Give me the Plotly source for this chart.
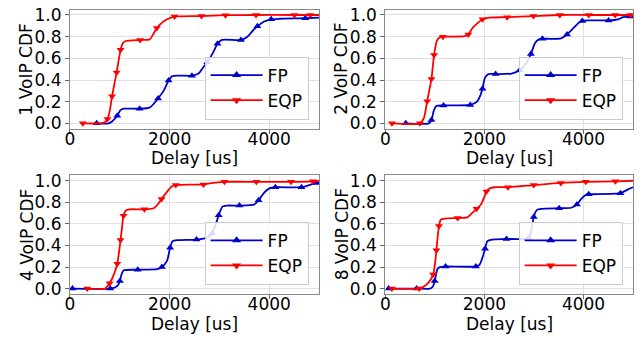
import plotly.graph_objects as go

# ---------------------------------------------------------------------------
# CDF curves of VoIP delay for FP and EQP, four scenarios (1, 2, 4, 8 VoIP flows)
# Each curve: delay knots (us), CDF values, and indices of knots that carry a marker.
# ---------------------------------------------------------------------------

# 1 VoIP
eqp1_x = [257, 600, 700, 752, 800, 844, 890, 937, 980, 1016, 1060, 1120, 1406, 1600,
          1680, 1743, 1850, 1950, 2099, 2640, 3121, 3735, 4507, 4824, 5000]
eqp1_y = [0, 0, 0.01, 0.04, 0.12, 0.25, 0.36, 0.47, 0.59, 0.68, 0.74, 0.76, 0.77, 0.775,
          0.83, 0.88, 0.93, 0.96, 0.985, 0.99, 0.998, 1.0, 1.0, 1.0, 1.0]
eqp1_mk = [0, 3, 5, 7, 9, 12, 15, 18, 19, 20, 21, 22, 23]

fp1_x = [535, 780, 850, 950, 1010, 1080, 1398, 1600, 1680, 1768, 1880, 1980, 2050, 2200,
         2448, 2580, 2680, 2758, 2880, 2962, 3050, 3432, 3560, 3680, 3762, 3900, 4040,
         4200, 4725, 5000]
fp1_y = [0, 0, 0.02, 0.07, 0.12, 0.135, 0.135, 0.145, 0.18, 0.23, 0.30, 0.395, 0.435, 0.44,
         0.44, 0.46, 0.52, 0.565, 0.66, 0.735, 0.77, 0.77, 0.80, 0.86, 0.895, 0.94, 0.96,
         0.965, 0.97, 0.975]
fp1_mk = [0, 3, 6, 9, 11, 14, 17, 19, 21, 24, 26, 28]

# 2 VoIP
eqp2_x = [134, 698, 780, 845, 931, 984, 1040, 1100, 1164, 1600, 1674, 1760, 1850, 1961,
          2100, 2459, 2990, 3522, 4106, 4638, 4951, 5000]
eqp2_y = [0, 0, 0.05, 0.205, 0.41, 0.63, 0.76, 0.795, 0.80, 0.805, 0.82, 0.88, 0.92, 0.96,
          0.975, 0.98, 0.99, 1.0, 1.0, 1.0, 1.0, 1.0]
eqp2_mk = [0, 1, 3, 4, 5, 8, 10, 13, 15, 16, 17, 18, 19, 20]

fp2_x = [413, 880, 931, 980, 1030, 1176, 1714, 1850, 1920, 1961, 2010, 2080, 2226, 2550,
         2711, 2850, 2938, 3020, 3100, 3170, 3550, 3668, 3800, 3920, 3975, 4100, 4506,
         4700, 4800, 4951, 5000]
fp2_y = [0, 0, 0.03, 0.12, 0.16, 0.165, 0.17, 0.20, 0.26, 0.32, 0.42, 0.455, 0.455, 0.46,
         0.49, 0.56, 0.64, 0.74, 0.775, 0.78, 0.785, 0.82, 0.88, 0.935, 0.945, 0.95, 0.95,
         0.96, 0.98, 0.985, 0.985]
fp2_mk = [0, 2, 5, 6, 9, 12, 14, 16, 19, 21, 24, 26, 29]

# 4 VoIP
eqp4_x = [346, 700, 796, 880, 949, 985, 1015, 1045, 1075, 1120, 1200, 1493, 1680, 1760,
          1837, 1950, 2050, 2124, 2400, 2680, 2800, 3100, 3742, 4438, 4876, 5000]
eqp4_y = [0, 0, 0.05, 0.13, 0.23, 0.34, 0.45, 0.57, 0.675, 0.725, 0.735, 0.735, 0.745, 0.78,
          0.83, 0.90, 0.95, 0.96, 0.965, 0.965, 0.975, 0.99, 0.99, 0.99, 0.995, 1.0]
eqp4_mk = [0, 2, 4, 6, 8, 11, 14, 17, 19, 21, 22, 23, 24]

fp4_x = [50, 808, 900, 960, 1001, 1040, 1080, 1360, 1750, 1845, 1950, 2010, 2060, 2150,
         2540, 2750, 2851, 2930, 2985, 3060, 3150, 3403, 3700, 3786, 3900, 4000, 4124,
         4647, 4800, 4945, 5000]
fp4_y = [0, 0, 0.01, 0.03, 0.07, 0.14, 0.17, 0.175, 0.18, 0.20, 0.26, 0.38, 0.44, 0.45,
         0.455, 0.47, 0.51, 0.60, 0.68, 0.76, 0.77, 0.77, 0.78, 0.82, 0.89, 0.93, 0.94,
         0.94, 0.96, 0.98, 0.985]
fp4_mk = [0, 1, 4, 7, 9, 11, 14, 16, 18, 21, 23, 26, 27, 29]

# 8 VoIP
eqp8_x = [133, 686, 780, 880, 965, 1000, 1031, 1055, 1083, 1120, 1200, 1462, 1650, 1750,
          1841, 1930, 1990, 2040, 2110, 2200, 2477, 2996, 3542, 4046, 4644, 5000]
eqp8_y = [0, 0, 0.02, 0.06, 0.13, 0.22, 0.355, 0.47, 0.58, 0.64, 0.65, 0.655, 0.66, 0.70,
          0.74, 0.78, 0.84, 0.90, 0.93, 0.94, 0.94, 0.96, 0.98, 0.99, 0.995, 1.0]
eqp8_mk = [0, 1, 4, 6, 8, 11, 14, 17, 20, 21, 22, 23, 24]

fp8_x = [66, 632, 900, 960, 997, 1050, 1100, 1216, 1828, 1900, 1970, 2013, 2060, 2150,
         2446, 2896, 2950, 2996, 3060, 3150, 3508, 3750, 3867, 3950, 4050, 4106, 4744,
         4900, 5000]
fp8_y = [0, 0, 0, 0.02, 0.07, 0.18, 0.20, 0.205, 0.205, 0.22, 0.30, 0.37, 0.44, 0.455,
         0.46, 0.47, 0.55, 0.665, 0.73, 0.74, 0.745, 0.75, 0.78, 0.83, 0.87, 0.875, 0.885,
         0.92, 0.94]
fp8_mk = [0, 1, 4, 7, 8, 11, 14, 15, 17, 20, 22, 25, 26]

panel_titles = ["1 VoIP CDF", "2 VoIP CDF", "4 VoIP CDF", "8 VoIP CDF"]
series_names = ["FP", "EQP"]
x_title = "Delay [us]"
x_ticks = [0, 2000, 4000]
y_ticks = [0.0, 0.2, 0.4, 0.6, 0.8, 1.0]

panels = [
    (fp1_x, fp1_y, fp1_mk, eqp1_x, eqp1_y, eqp1_mk),
    (fp2_x, fp2_y, fp2_mk, eqp2_x, eqp2_y, eqp2_mk),
    (fp4_x, fp4_y, fp4_mk, eqp4_x, eqp4_y, eqp4_mk),
    (fp8_x, fp8_y, fp8_mk, eqp8_x, eqp8_y, eqp8_mk),
]

# ---------------------------------------------------------------------------
W, H = 641, 343
FONT = "DejaVu Sans"
FS = 17
BLUE = "#0000CC"
RED = "#FF0000"

# plot-area boxes in pixels: (left, right, top, bottom)
boxes = [
    (65.5, 316.5, 4.7, 127.5),
    (383.3, 633.0, 4.7, 127.5),
    (65.5, 316.5, 175.5, 297.7),
    (383.3, 633.0, 175.5, 297.7),
]

fig = go.Figure()
layout = dict(
    width=W, height=H,
    margin=dict(l=0, r=0, t=0, b=0),
    paper_bgcolor="white", plot_bgcolor="white",
    font=dict(family=FONT, size=FS, color="black"),
    showlegend=True,
)
annotations = []

styles = [
    dict(color=BLUE, symbol="triangle-up"),
    dict(color=RED, symbol="triangle-down"),
]

for i, (box, data) in enumerate(zip(boxes, panels)):
    k = "" if i == 0 else str(i + 1)
    xa, ya = "x" + k, "y" + k
    leg = "legend" + k
    l, r, t, b = box
    layout["xaxis" + k] = dict(
        domain=[l / W, r / W], anchor=ya, range=[0, 5000],
        tickvals=x_ticks, ticks="outside", ticklen=4, tickcolor="#666",
        ticklabelstandoff=-9,
        showline=True, linecolor="#888", linewidth=1, mirror=True,
        showgrid=True, gridcolor="#e0e0e0", gridwidth=1, zeroline=False,
        tickfont=dict(size=FS), fixedrange=True,
    )
    layout["yaxis" + k] = dict(
        domain=[1 - b / H, 1 - t / H], anchor=xa, range=[-0.05, 1.05],
        tickvals=y_ticks, tickformat=".1f", ticks="outside", ticklen=4, tickcolor="#666",
        showline=True, linecolor="#888", linewidth=1, mirror=True,
        showgrid=True, gridcolor="#e0e0e0", gridwidth=1, zeroline=False,
        tickfont=dict(size=FS), fixedrange=True,
    )
    # axis titles
    annotations.append(dict(
        text=panel_titles[i], textangle=-90, showarrow=False,
        xref="paper", yref="paper", x=(l - 44) / W, y=1 - (t + b) / 2 / H,
        xanchor="center", yanchor="middle", font=dict(size=FS),
    ))
    annotations.append(dict(
        text=x_title, showarrow=False,
        xref="paper", yref="paper", x=(l + r) / 2 / W, y=1 - (b + 30.5) / H,
        xanchor="center", yanchor="middle", font=dict(size=FS),
    ))

    curves = [(data[0], data[1], data[2]), (data[3], data[4], data[5])]
    for (cx, cy, mk), st, name in zip(curves, styles, series_names):
        fig.add_trace(go.Scatter(
            x=cx, y=cy, mode="lines", xaxis=xa, yaxis=ya,
            line=dict(color=st["color"], width=1.8, shape="spline", smoothing=0.6),
            showlegend=False, hoverinfo="skip",
        ))
        fig.add_trace(go.Scatter(
            x=[cx[j] for j in mk], y=[cy[j] for j in mk], mode="markers",
            xaxis=xa, yaxis=ya,
            marker=dict(color=st["color"], symbol=st["symbol"], size=7, line=dict(width=0)),
            showlegend=False, hoverinfo="skip",
        ))
        # legend entry for this panel
        fig.add_trace(go.Scatter(
            x=[None], y=[None], mode="lines+markers", name=name, xaxis=xa, yaxis=ya,
            line=dict(color=st["color"], width=1.8),
            marker=dict(color=st["color"], symbol=st["symbol"], size=8),
            legend=leg, showlegend=True,
        ))

    layout[leg] = dict(
        x=(r - 10.5) / W, y=1 - (b - 9.5) / H, xanchor="right", yanchor="bottom",
        bgcolor="rgba(255,255,255,0.85)", bordercolor="#cccccc", borderwidth=1,
        font=dict(size=FS, family=FONT), tracegroupgap=0, itemwidth=52,
    )

layout["annotations"] = annotations
fig.update_layout(**layout)
fig.write_html("out.html")
